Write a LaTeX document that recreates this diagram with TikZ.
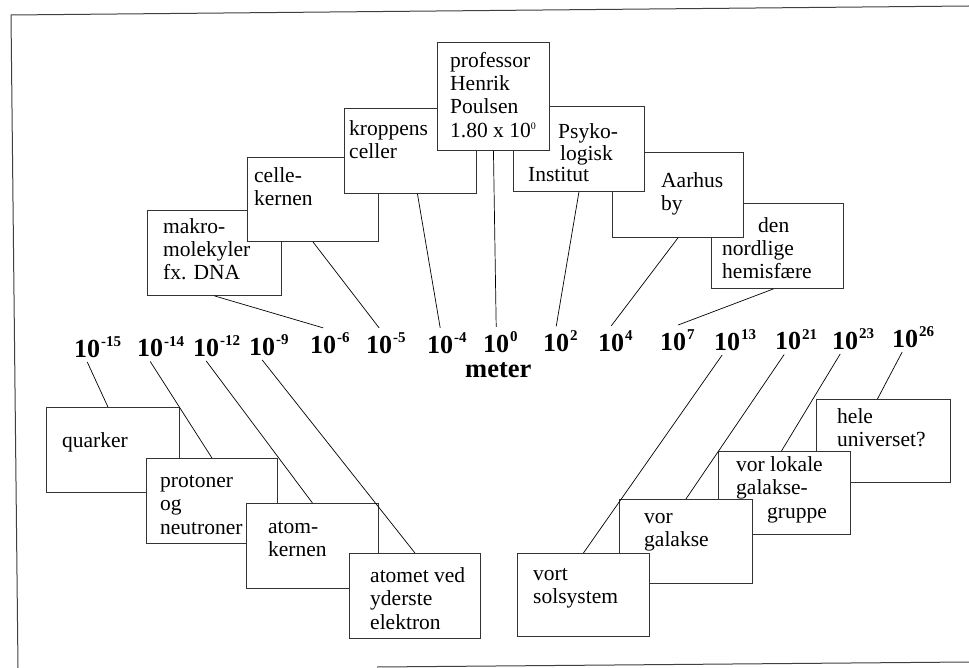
\documentclass[tikz,border=0pt]{standalone}
\usepackage{fontspec}
\setmainfont{Liberation Serif}
\tikzset{
  box/.style={draw=black!80, line width=0.9pt, fill=white, inner sep=0pt, anchor=north west},
  txt/.style={inner sep=0pt, anchor=north west, align=left, font=\fontsize{21.5}{23.4}\selectfont},
  num/.style={inner xsep=0pt, inner ysep=4.5pt, anchor=base west, font=\fontsize{26}{28}\selectfont\bfseries},
  conn/.style={line width=0.7pt, black},
  frameline/.style={line width=1pt, black!75}
}
\newcommand\mybox[5]{\node[box, minimum width={#4-#2}, minimum height={#5-#3}] (#1) at (#2,#3) {};}
\newcommand\mytext[4]{\node[txt] (#1) at (#2,{#3-16.38}) {\strut #4};}
\newcommand\myexp[1]{\rlap{\kern1pt\raisebox{10.5pt}{\fontsize{15}{15}\selectfont #1}}}
\begin{document}
\begin{tikzpicture}[x=1pt, y=-1pt]
\useasboundingbox (0,0) rectangle (969,668);
\fill[white] (0,0) rectangle (969,668);
% frame
\draw[frameline] (11,15) -- (969,6);
\draw[frameline] (11,15) -- (18,668);
\draw[frameline] (377,667) -- (969,662);

% upper boxes, left side
\mybox{makro}{147}{210}{281}{295}
\mytext{tmakro}{163}{233}{makro-\\molekyler\\fx. DNA}
\mybox{celle}{247}{157}{378}{241}
\mytext{tcelle}{254}{182}{celle-\\kernen}
\mybox{kropp}{344}{108}{476}{193}
\mytext{tkropp}{349}{135}{kroppens\\celler}
% upper boxes, right side
\mybox{nord}{711}{203}{843}{288}
\mytext{tnord}{722}{232}{\hspace*{36pt}den\\nordlige\\hemisfære}
\mybox{aarhus}{612}{152}{743}{237}
\mytext{taarhus}{661}{187}{Aarhus\\by}
\mybox{psyk}{513}{106}{644}{191}
\mytext{tpsyk}{528}{138}{\hspace*{30pt}Psyko-\\[-1pt]\hspace*{32pt}logisk\\[-2pt]Institut}
\mybox{prof}{437}{42}{549}{150}
\mytext{tprof}{450}{67}{professor\\Henrik\\Poulsen\\1.80 x 10\raisebox{8pt}{\fontsize{10}{10}\selectfont 0}}

% lower boxes, left side
\mybox{quark}{46}{407}{179}{492}
\mytext{tquark}{62}{447}{quarker}
\mybox{proton}{146}{458}{277}{543}
\mytext{tproton}{160}{487}{protoner\\og\\neutroner}
\mybox{kerne}{246}{503}{378}{588}
\mytext{tkerne}{268}{533}{atom-\\kernen}
\mybox{atomet}{349}{553}{480}{638}
\mytext{tatomet}{370}{582}{atomet ved\\yderste\\elektron}
% lower boxes, right side
\mybox{hele}{816}{399}{950}{482}
\mytext{thele}{837}{423}{hele\\universet?}
\mybox{lokale}{718}{451}{850}{534}
\mytext{tlokale}{736}{471}{vor lokale\\galakse-\\\hspace*{31pt}gruppe}
\mybox{galakse}{619}{499}{752}{583}
\mytext{tgalakse}{644}{523}{vor\\galakse}
\mybox{sol}{517}{553}{649}{636}
\mytext{tsol}{533}{580}{vort\\solsystem}

% scale numbers
\node[num] (n15) at (74,357) {10\myexp{-15}};
\node[num] (n14) at (137,356.5) {10\myexp{-14}};
\node[num] (n12) at (193,356) {10\myexp{-12}};
\node[num] (n9) at (249,355) {10\myexp{-9}};
\node[num] (n6) at (310,353) {10\myexp{-6}};
\node[num] (n5) at (366,353) {10\myexp{-5}};
\node[num] (n4) at (427,353) {10\myexp{-4}};
\node[num] (n0) at (483,352) {10\myexp{0}};
\node[num] (n2) at (543,351.5) {10\myexp{2}};
\node[num] (n4p) at (598,351) {10\myexp{4}};
\node[num] (n7) at (660,350) {10\myexp{7}};
\node[num] (n13) at (714,350) {10\myexp{13}};
\node[num] (n21) at (775,349.5) {10\myexp{21}};
\node[num] (n23) at (832,349) {10\myexp{23}};
\node[num] (n26) at (892,347) {10\myexp{26}};
\node[inner sep=0pt, anchor=base west, font=\fontsize{26.5}{28}\selectfont\bfseries] (meter) at (465,377) {meter};

% connectors, upper
\draw[conn] (makro.south) -- (n6.north);
\draw[conn] (celle.south) -- (n5.north);
\draw[conn] ([xshift=7pt]kropp.south) -- (n4.north);
\draw[conn] (prof.south) -- (n0.north);
\draw[conn] (psyk.south) -- (n2.north);
\draw[conn] (aarhus.south) -- (n4p.north);
\draw[conn] ([xshift=-4pt]nord.south) -- ([xshift=5pt]n7.north);
% connectors, lower
\draw[conn] (n15.south) -- ([xshift=-5pt]quark.north);
\draw[conn] (n14.south) -- (proton.north);
\draw[conn] (n12.south) -- (kerne.north);
\draw[conn] (n9.south) -- (atomet.north);
\draw[conn] ([xshift=-5pt]n13.south) -- (sol.north);
\draw[conn] ([xshift=-4pt]n21.south) -- (galakse.north);
\draw[conn] ([xshift=-5pt]n23.south) -- ([xshift=-3pt]lokale.north);
\draw[conn] ([xshift=-3pt]n26.south) -- ([xshift=-6pt]hele.north);
\end{tikzpicture}
\end{document}
